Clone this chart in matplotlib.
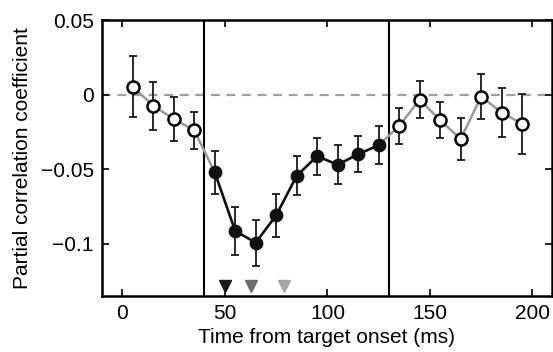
import matplotlib
matplotlib.use("Agg")
import matplotlib.pyplot as plt
import numpy as np

plt.rcParams['font.family'] = ['Liberation Sans', 'DejaVu Sans']

time_ms = [5, 15, 25, 35, 45, 55, 65, 75, 85, 95, 105, 115, 125, 135, 145, 155, 165, 175, 185, 195]
coef = [0.0053, -0.0074, -0.0163, -0.0239, -0.052, -0.0914, -0.0992, -0.0809, -0.0544, -0.0412,
        -0.047, -0.0399, -0.0339, -0.021, -0.0033, -0.0172, -0.0297, -0.0013, -0.012, -0.0196]
err = [0.0205, 0.016, 0.015, 0.0125, 0.0143, 0.016, 0.0155, 0.0143, 0.013, 0.0124,
       0.013, 0.012, 0.0128, 0.012, 0.0122, 0.012, 0.0143, 0.015, 0.0167, 0.0202]
window = [40, 130]
arrow_times = [50, 62.5, 79]
arrow_colors = ['#1a1a1a', '#6e6e6e', '#a6a6a6']
arrow_y = -0.1285

t = np.array(time_ms)
c = np.array(coef)
e = np.array(err)
inside = (t > window[0]) & (t < window[1])

fig = plt.figure(figsize=(5.53, 3.52), dpi=100)
ax = fig.add_axes([0.1844, 0.159, 0.8136, 0.784])

ax.axhline(0, color='#a0a0a0', lw=1.6, ls=(0, (4, 3)), zorder=1)
for w in window:
    ax.axvline(w, color='black', lw=1.5, zorder=2)

ax.plot(t, c, color='#9a9a9a', lw=1.8, zorder=3)
ax.plot(t[inside], c[inside], color='#111111', lw=1.8, zorder=4)

ax.errorbar(t, c, yerr=e, fmt='none', ecolor='#1a1a1a', elinewidth=1.3,
            capsize=3, capthick=1.3, zorder=5)

ax.plot(t[~inside], c[~inside], 'o', ms=8.7, mfc='white', mec='black', mew=1.8, ls='none', zorder=6)
ax.plot(t[inside], c[inside], 'o', ms=8.7, mfc='#111111', mec='#111111', mew=1.2, ls='none', zorder=6)

for at, ac in zip(arrow_times, arrow_colors):
    ax.plot([at], [arrow_y], marker='v', ms=8.5, color=ac, mec=ac, ls='none', zorder=6)

ax.set_xlim(-10, 209.5)
ax.set_ylim(-0.135, 0.05)
ax.set_xticks([0, 50, 100, 150, 200])
ax.set_yticks([-0.1, -0.05, 0, 0.05])
ax.set_yticklabels(['\u22120.1', '\u22120.05', '0', '0.05'])
ax.tick_params(direction='in', length=5, width=1.2, top=True, right=True,
               labelsize=15, pad=6)
for s in ax.spines.values():
    s.set_linewidth(1.8)

ax.set_xlabel('Time from target onset (ms)', fontsize=15, labelpad=3)
ax.set_ylabel('Partial correlation coefficient', fontsize=15, labelpad=6)

fig.savefig('out.png', dpi=100)
